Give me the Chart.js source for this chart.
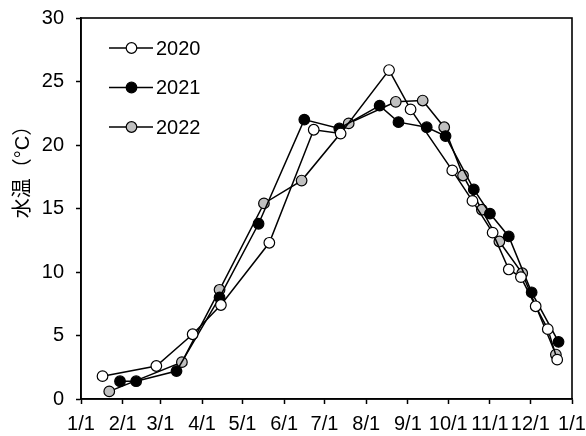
<!DOCTYPE html>
<html>
<head>
<meta charset="utf-8">
<script src="https://cdn.jsdelivr.net/npm/chart.js@4/dist/chart.umd.min.js"></script>
<style>
  html, body { margin: 0; padding: 0; background: #fff; }
  #wrap { width: 586px; height: 436px; }
</style>
</head>
<body>
<div id="wrap"><canvas id="tempChart"></canvas></div>
<script>
"use strict"
// day-of-year positions of the month ticks and their labels
var monthDays = [0, 31, 59, 90, 120, 151, 181, 212, 243, 273, 304, 334, 365];
var monthLabels = ["1/1","2/1","3/1","4/1","5/1","6/1","7/1","8/1","9/1","10/1","11/1","12/1","1/1"];

// water temperature by sampling day (day of year)
var days2020 = [16, 56, 83, 104, 140, 173, 193, 229, 245, 276, 291, 306, 318, 327, 338, 347, 354];
var temp2020 = [1.8, 2.6, 5.1, 7.4, 12.3, 21.2, 20.9, 25.9, 22.8, 18.0, 15.6, 13.1, 10.2, 9.6, 7.3, 5.5, 3.1];

var days2021 = [29, 41, 71, 103, 132, 166, 192, 222, 236, 257, 271, 292, 304, 318, 335, 355];
var temp2021 = [1.4, 1.4, 2.2, 8.0, 13.8, 22.0, 21.3, 23.1, 21.8, 21.4, 20.7, 16.5, 14.6, 12.8, 8.4, 4.5];

var days2022 = [21, 75, 103, 136, 164, 199, 234, 254, 270, 284, 298, 311, 328, 353];
var temp2022 = [0.6, 2.9, 8.6, 15.4, 17.2, 21.7, 23.4, 23.5, 21.4, 17.6, 14.9, 12.4, 9.9, 3.5];

var FONT = "'Liberation Sans', Arial, 'Noto Sans CJK JP', sans-serif";

function toPoints(xs, ys) {
  return xs.map(function(d, i) { return {x: d, y: ys[i]}; });
}

function series(label, xs, ys, fill) {
  return {
    label: label,
    data: toPoints(xs, ys),
    borderColor: "#000",
    borderWidth: 1.5,
    pointRadius: 5.3,
    pointBorderWidth: 1.2,
    pointBorderColor: "#000",
    pointBackgroundColor: fill,
    tension: 0
  };
}

// box around the plot area
var frame = {
  id: "frame",
  afterDraw: function(chart) {
    var a = chart.chartArea, ctx = chart.ctx;
    ctx.save();
    ctx.strokeStyle = "#000";
    ctx.lineWidth = 1.6;
    ctx.strokeRect(a.left, a.top, a.right - a.left, a.bottom - a.top);
    ctx.restore();
  }
};

// legend inside the plot (line + marker + year) and the rotated y title
var sideText = {
  id: "sideText",
  afterDraw: function(chart) {
    var ctx = chart.ctx;
    ctx.save();
    chart.data.datasets.forEach(function(ds, i) {
      var y = 48 + i * 39.5;
      ctx.strokeStyle = "#000";
      ctx.lineWidth = 1.5;
      ctx.beginPath();
      ctx.moveTo(109, y);
      ctx.lineTo(153, y);
      ctx.stroke();
      ctx.beginPath();
      ctx.arc(131.5, y, 5.3, 0, Math.PI * 2);
      ctx.fillStyle = ds.pointBackgroundColor;
      ctx.fill();
      ctx.lineWidth = 1.2;
      ctx.stroke();
      ctx.fillStyle = "#000";
      ctx.font = "20px " + FONT;
      ctx.textAlign = "left";
      ctx.textBaseline = "middle";
      ctx.fillText(ds.label, 156, y + 1);
    });
    ctx.translate(23, 167);
    ctx.rotate(-Math.PI / 2);
    ctx.font = "20px " + FONT;
    ctx.textAlign = "center";
    ctx.textBaseline = "middle";
    ctx.fillText("水温（°C）", 0, 0);
    ctx.restore();
  }
};

var ctxC = document.getElementById("tempChart");
var tempChart = new Chart(ctxC, {
  type: "line",
  data: {
    datasets: [
      series("2020", days2020, temp2020, "#ffffff"),
      series("2021", days2021, temp2021, "#000000"),
      series("2022", days2022, temp2022, "#c0c0c0")
    ]
  },
  options: {
    responsive: true,
    maintainAspectRatio: false,
    animation: false,
    layout: { padding: { left: 0, right: 14, top: 18, bottom: 0 } },
    plugins: {
      legend: { display: false },
      tooltip: { enabled: false }
    },
    scales: {
      x: {
        type: "linear",
        min: 0,
        max: 365,
        afterBuildTicks: function(scale) {
          scale.ticks = monthDays.map(function(d) { return {value: d}; });
        },
        afterFit: function(scale) {
          scale.height = 37;
          scale.paddingLeft = 0;
          scale.paddingRight = 0;
        },
        grid: { drawOnChartArea: false, tickLength: 5, tickWidth: 1.5, tickColor: "#000" },
        border: { color: "#000", width: 1.6 },
        ticks: {
          autoSkip: false,
          maxRotation: 0,
          padding: 8,
          color: "#000",
          font: { size: 20, family: FONT },
          callback: function(v, i) { return monthLabels[i]; }
        }
      },
      y: {
        min: 0,
        max: 30,
        afterFit: function(scale) {
          scale.width = 81;
          scale.paddingTop = 0;
          scale.paddingBottom = 0;
        },
        grid: { drawOnChartArea: false, tickLength: 5, tickWidth: 1.5, tickColor: "#000" },
        border: { color: "#000", width: 1.6 },
        ticks: {
          stepSize: 5,
          padding: 12,
          color: "#000",
          font: { size: 20, family: FONT }
        }
      }
    }
  },
  plugins: [frame, sideText]
});
</script>
</body>
</html>
